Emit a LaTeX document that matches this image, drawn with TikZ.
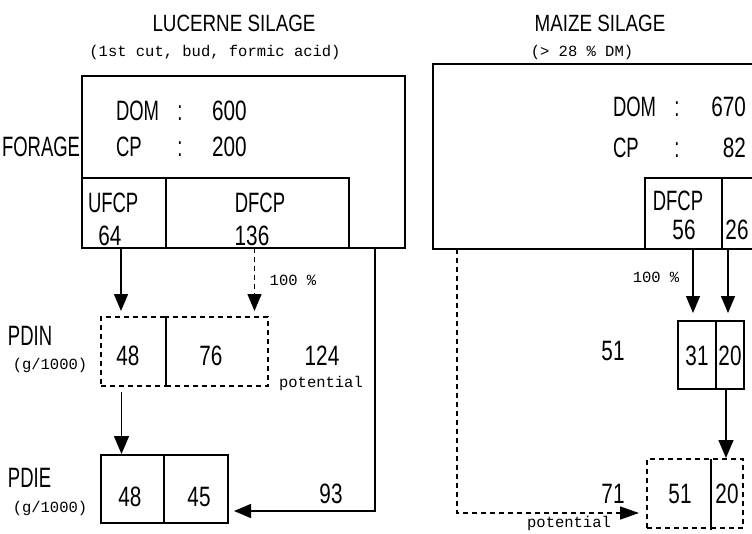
\documentclass[tikz,border=0pt]{standalone}
\usepackage{fontspec}
\setmainfont{Liberation Sans}
\newfontfamily\cfnt[FakeStretch=0.66]{Liberation Sans}
\newfontfamily\nfnt[FakeStretch=0.74]{Liberation Sans}
\newfontfamily\tfnt[FakeStretch=0.8]{Liberation Sans}
\newfontfamily\mfnt{Liberation Mono}
\usetikzlibrary{arrows.meta}
\tikzset{
  big/.style={font=\cfnt\fontsize{28}{30}\selectfont},
  num/.style={font=\nfnt\fontsize{28}{30}\selectfont},
  ttl/.style={font=\tfnt\fontsize{23.5}{26}\selectfont},
  small/.style={font=\mfnt\fontsize{15.5}{17}\selectfont},
  txt/.style={inner sep=0pt, outer sep=0pt},
  cell/.style={draw, line width=1.4pt, inner sep=0pt, outer sep=0pt, anchor=north west},
  dcell/.style={cell, dash pattern=on 5pt off 4pt},
  conn/.style={line width=1.5pt},
  dconn/.style={conn, dash pattern=on 5pt off 4pt},
  oarrow/.style={-{Triangle[length=17pt,width=14pt]}},
  farrow/.style={-{Triangle[length=18pt,width=15pt]}},
  sarrow/.style={-{Triangle[length=19pt,width=13pt]}},
}
\begin{document}
\begin{tikzpicture}[x=1pt,y=-1pt]
\useasboundingbox (0,0) rectangle (752,533);
\fill[white] (0,0) rectangle (752,533);
\clip (0,0) rectangle (752,533);

% ---------- Lucerne silage ----------
\node[txt,ttl] (Lttl) at (234,23) {LUCERNE SILAGE};
\node[txt,small] (Lsub) at (215,52) {(1st cut, bud, formic acid)};

\node[cell, minimum width=323pt, minimum height=172pt] (Lbox) at (82,76) {};
\node[cell, minimum width=84pt, minimum height=70pt] (ufcp) at (82,178) {};
\node[cell, minimum width=183pt, minimum height=70pt] (dfcp) at (166,178) {};

\node[txt,big,anchor=base west] (forage) at (2,156) {FORAGE};
\node[txt,big,anchor=base west] (Ldom) at (116,120) {DOM};
\node[txt,big,anchor=base] (Ldomc) at (180,120) {:};
\node[txt,num,anchor=base west] (Ldomv) at (212,120) {600};
\node[txt,big,anchor=base west] (Lcp) at (116,156) {CP};
\node[txt,big,anchor=base] (Lcpc) at (180,156) {:};
\node[txt,num,anchor=base west] (Lcpv) at (212,156) {200};

\node[txt,big,anchor=base west] (ufcpt) at (88,212) {UFCP};
\node[txt,num,anchor=base] (ufcpv) at (110,245) {64};
\node[txt,big,anchor=base] (dfcpt) at (260,212) {DFCP};
\node[txt,num,anchor=base] (dfcpv) at (252,245) {136};

% PDIN row
\node[txt,big,anchor=base west] (pdinl) at (8,345) {PDIN};
\node[txt,small] (pdinu) at (50,365) {(g/1000)};
\node[dcell, minimum width=65pt, minimum height=69pt] (pdin48) at (101,317) {};
\node[dcell, minimum width=102pt, minimum height=69pt] (pdin76) at (166,317) {};
\draw[conn] (pdin48.north east) -- (pdin48.south east);
\node[txt,num,anchor=base] (pdin48t) at (128,365) {48};
\node[txt,num,anchor=base] (pdin76t) at (211,365) {76};
\node[txt,num,anchor=base] (pdintot) at (322,365) {124};
\node[txt,small,anchor=base] (pdinpot) at (321,387) {potential};

% PDIE row
\node[txt,big,anchor=base west] (pdiel) at (8,487) {PDIE};
\node[txt,small] (pdieu) at (50,508) {(g/1000)};
\node[cell, minimum width=63pt, minimum height=68pt] (pdie48) at (101,455) {};
\node[cell, minimum width=64pt, minimum height=68pt] (pdie45) at (164,455) {};
\node[txt,num,anchor=base] (pdie48t) at (130,506) {48};
\node[txt,num,anchor=base] (pdie45t) at (199,506) {45};
\node[txt,num,anchor=base] (pdie93t) at (331,503) {93};

% Lucerne connectors
\draw[conn,oarrow,shorten >=6pt] ([xshift=-3pt]ufcp.south) -- ([xshift=-3pt]ufcp.south |- pdin48.north);
\draw[dconn,oarrow,shorten >=6pt] ([xshift=-3pt]dfcp.south) -- ([xshift=-3pt]dfcp.south |- pdin76.north);
\node[txt,small] (Lpct) at (293,280) {100 \%};
\draw[conn,farrow,shorten <=6pt,shorten >=1pt] ([xshift=-12pt]pdin48.south) -- ([xshift=-12pt]pdin48.south |- pdie48.north);
\draw[conn,oarrow,shorten >=6pt] ([xshift=-30pt]Lbox.south east) |- ([yshift=-22pt]pdie45.east);

% ---------- Maize silage ----------
\node[txt,ttl] (Mttl) at (600,23) {MAIZE SILAGE};
\node[txt,small] (Msub) at (582,52) {(> 28 \% DM)};

\node[cell, minimum width=330pt, minimum height=185pt] (Mbox) at (433,64) {};
\node[cell, minimum width=77pt, minimum height=71pt] (m56) at (645,178) {};
\node[cell, minimum width=45pt, minimum height=71pt] (m26) at (722,178) {};

\node[txt,big,anchor=base west] (Mdom) at (613,116) {DOM};
\node[txt,big,anchor=base] (Mdomc) at (677,116) {:};
\node[txt,num,anchor=base east] (Mdomv) at (746,116) {670};
\node[txt,big,anchor=base west] (Mcp) at (613,157) {CP};
\node[txt,big,anchor=base] (Mcpc) at (677,157) {:};
\node[txt,num,anchor=base east] (Mcpv) at (746,157) {82};
\node[txt,big,anchor=base] (m56t) at (678,210) {DFCP};
\node[txt,num,anchor=base] (m56v) at (684,239) {56};
\node[txt,num,anchor=base] (m26v) at (737,239) {26};

% PDIN row
\node[txt,num,anchor=base] (Mpdin) at (613,360) {51};
\node[cell, minimum width=38pt, minimum height=68pt] (m31) at (678,321) {};
\node[cell, minimum width=28pt, minimum height=68pt] (m20) at (716,321) {};
\node[txt,num,anchor=base] (m31t) at (697,365) {31};
\node[txt,num,anchor=base] (m20t) at (730,365) {20};

% PDIE row
\node[txt,num,anchor=base] (Mpdie) at (613,503) {71};
\node[dcell, minimum width=64pt, minimum height=69pt] (m51) at (647,459) {};
\node[dcell, minimum width=32pt, minimum height=69pt] (m20b) at (711,459) {};
\draw[conn] (m51.north east) -- ([yshift=-2pt]m51.south east);
\node[txt,num,anchor=base] (m51t) at (680,503) {51};
\node[txt,num,anchor=base] (m20bt) at (727,503) {20};
\node[txt,small,anchor=base] (Mpot) at (569,527) {potential};

% Maize connectors
\draw[conn,oarrow,shorten >=8pt] ([xshift=-4pt]m31.north |- m56.south) -- ([xshift=-4pt]m31.north);
\draw[conn,oarrow,shorten >=8pt] ([xshift=-2pt]m20.north |- m26.south) -- ([xshift=-2pt]m20.north);
\node[txt,small] (Mpct) at (656,277) {100 \%};
\draw[conn,farrow,shorten >=1pt] ([xshift=-4pt]m20.south) -- ([xshift=-4pt]m20.south |- m20b.north);
\draw[dconn,sarrow,shorten >=8pt] ([xshift=24pt]Mbox.south west) |- ([yshift=-19.5pt]m51.west);
\end{tikzpicture}
\end{document}
